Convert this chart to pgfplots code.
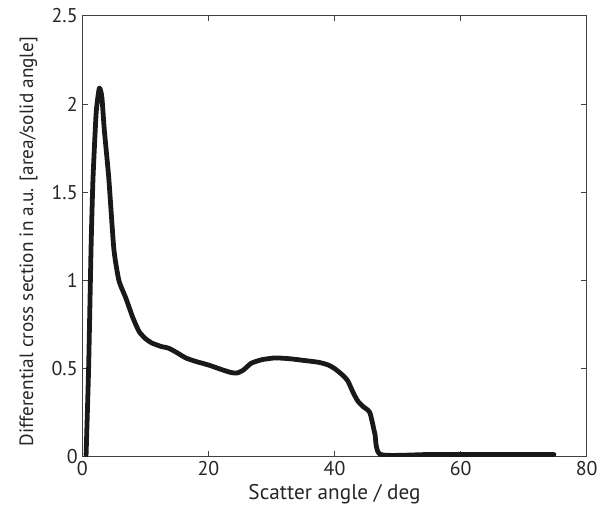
\documentclass[border=0pt]{standalone}
\usepackage{pgfplots}
\pgfplotsset{compat=1.18}
\usepackage{fontspec}
\setmainfont{PT Sans}
\begin{document}
\begin{tikzpicture}
\begin{axis}[
    scale only axis,
    width=380pt, height=332pt,
    xmin=0, xmax=80, ymin=0, ymax=2.5,
    xtick={0,20,40,60,80},
    ytick={0,0.5,1,1.5,2,2.5},
    yticklabels={0,0.5,1,1.5,2,2.5},
    tick align=inside,
    major tick length=4pt,
    axis line style={black!75, line width=0.8pt},
    tick style={black!75, line width=0.8pt},
    ticklabel style={font=\fontsize{15}{17}\selectfont, text=black!85},
    /pgf/number format/assume math mode=true,
    xlabel={Scatter angle / deg},
    ylabel={Differential cross section in a.u. [area/solid angle]},
    xlabel style={font=\fontsize{16}{18}\selectfont, text=black!85,
        at={(axis description cs:0.5,0)}, anchor=center, yshift=-28.5pt},
    ylabel style={font=\fontsize{14.5}{16}\selectfont, text=black!85,
        at={(axis description cs:0,0.5)}, anchor=center, yshift=40.5pt, xshift=-4pt},
]
\addplot[black!90, line width=3.6pt, line join=round, line cap=round, smooth, tension=0.35] coordinates {
    (0.6,0.01) (1.0,0.5) (1.4,1.2) (1.7,1.58) (2.2,1.95) (2.7,2.09) (3.1,2.04)
    (3.5,1.85) (4.2,1.58) (5.0,1.18) (5.8,1.0) (6.9,0.9) (8.0,0.79) (9.0,0.71)
    (10.0,0.67) (11.0,0.645) (12.5,0.625) (13.7,0.615) (15.0,0.59) (16.4,0.56)
    (18.0,0.54) (20.0,0.52) (22.0,0.495) (23.5,0.478) (24.5,0.474) (25.5,0.49)
    (26.8,0.53) (28.5,0.55) (30.6,0.56) (33.0,0.555) (35.3,0.545) (37.5,0.535)
    (39.0,0.52) (40.0,0.50) (41.2,0.465) (42.1,0.43) (43.0,0.36) (43.7,0.315)
    (44.5,0.285) (45.6,0.25) (46.4,0.13) (47.3,0.012) (55,0.012) (65,0.012) (74.8,0.012)
};
\end{axis}
\path (current axis.south west) ++(-62pt,-40pt) (current axis.north east) ++(9pt,12pt);
\end{tikzpicture}
\end{document}
